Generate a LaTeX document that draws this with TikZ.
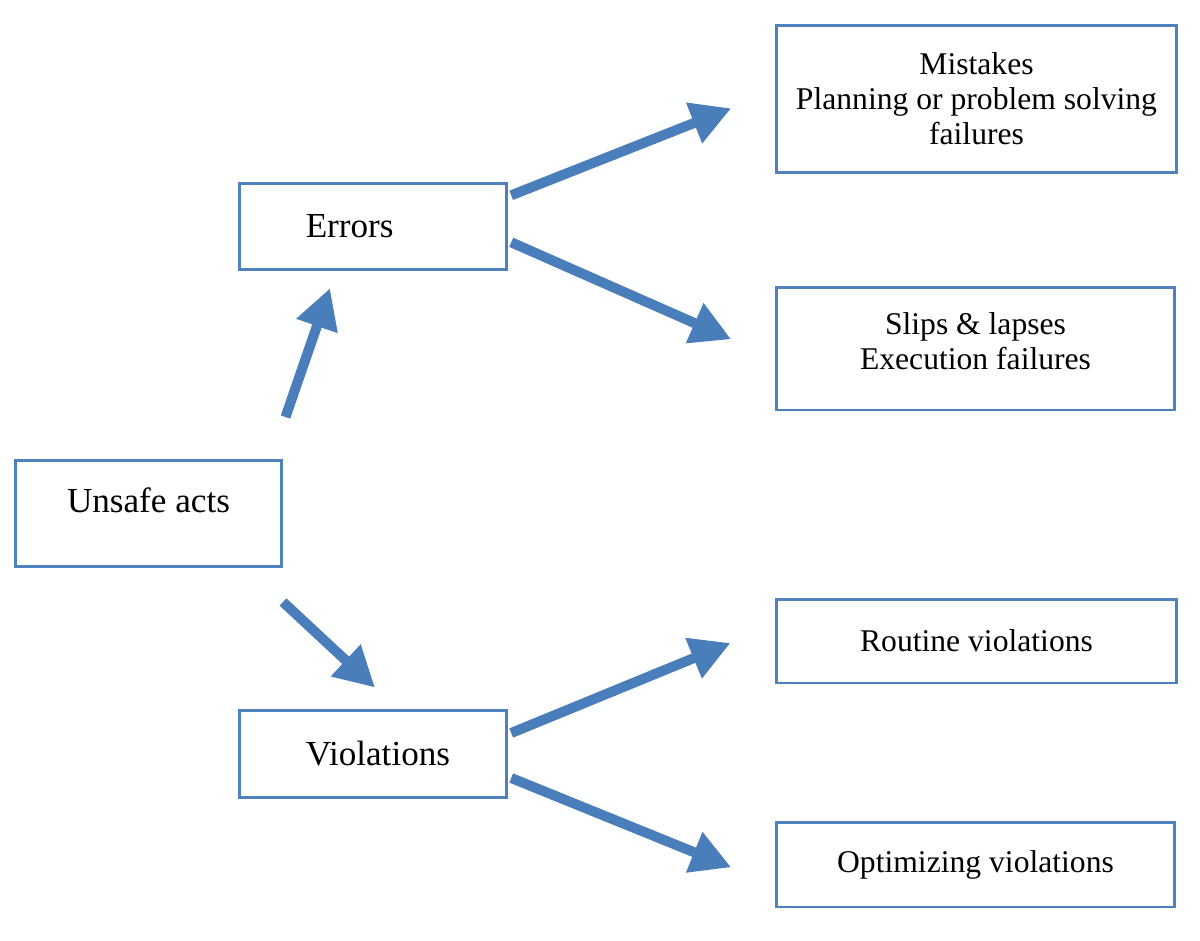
\documentclass[tikz,border=0pt]{standalone}
\usepackage{fontspec}
\setmainfont{Liberation Serif}
\usepackage{xcolor}
\usetikzlibrary{arrows.meta, positioning, calc}
\definecolor{boxblue}{RGB}{79,129,189}
\definecolor{flowblue}{RGB}{74,126,187}
\tikzset{
    box/.style={draw=boxblue, line width=1.7pt, fill=white, inner sep=0pt, align=center},
    bigtext/.style={font=\fontsize{20}{24}\selectfont},
    smalltext/.style={font=\fontsize{18}{20}\selectfont},
    indented/.style={text width=5.35cm, align=left, execute at begin node={\hspace*{1.33cm}}},
    flow/.style={-{Triangle[length=0.8cm, width=0.82cm]}, line width=0.2cm, draw=flowblue}
}

\begin{document}
\begin{tikzpicture}[x=0.02cm, y=-0.02cm]
    \useasboundingbox (0,0) rectangle (1200,940);
    % Left column
    \node[box, bigtext, minimum width=5.34cm, text height=1.04cm, text depth=1.08cm] (unsafe) at (148.5,513.5) {Unsafe acts};
    \node[box, bigtext, indented, minimum height=1.72cm] (err) at (373,226.3) {Errors};
    \node[box, bigtext, indented, minimum height=1.73cm] (vio) at (373,754) {Violations};
    % Right column
    \node[box, smalltext, minimum width=8.02cm, minimum height=2.96cm] (mis) at (976.5,99) {Mistakes\\Planning or problem solving\\failures};
    \node[box, smalltext, minimum width=7.98cm, minimum height=2.46cm, text depth=0.3cm] (slp) at (975.5,348.5) {Slips \& lapses\\Execution failures};
    \node[box, smalltext, minimum width=8.02cm, minimum height=1.68cm] (rou) at (976.5,641) {Routine violations};
    \node[box, smalltext, minimum width=7.98cm, minimum height=1.70cm] (opt) at (975.5,864.5) {Optimizing violations};
    % Arrows
    \draw[flow] ([shift={(137,-42)}]unsafe.north) -- ([shift={(-43,17.4)}]err.south);
    \draw[flow] ([shift={(134.5,34)}]unsafe.south) -- ([shift={(2,-21.7)}]vio.north);
    \draw[flow] ([shift={(3,-31)}]err.east) -- ([shift={(-43.3,9.3)}]mis.west);
    \draw[flow] ([shift={(3,16)}]err.east) -- ([shift={(-43.3,-9.2)}]slp.west);
    \draw[flow] ([shift={(3,-21)}]vio.east) -- ([shift={(-44,2)}]rou.west);
    \draw[flow] ([shift={(3,24)}]vio.east) -- ([shift={(-43.3,2.8)}]opt.west);
\end{tikzpicture}
\end{document}
